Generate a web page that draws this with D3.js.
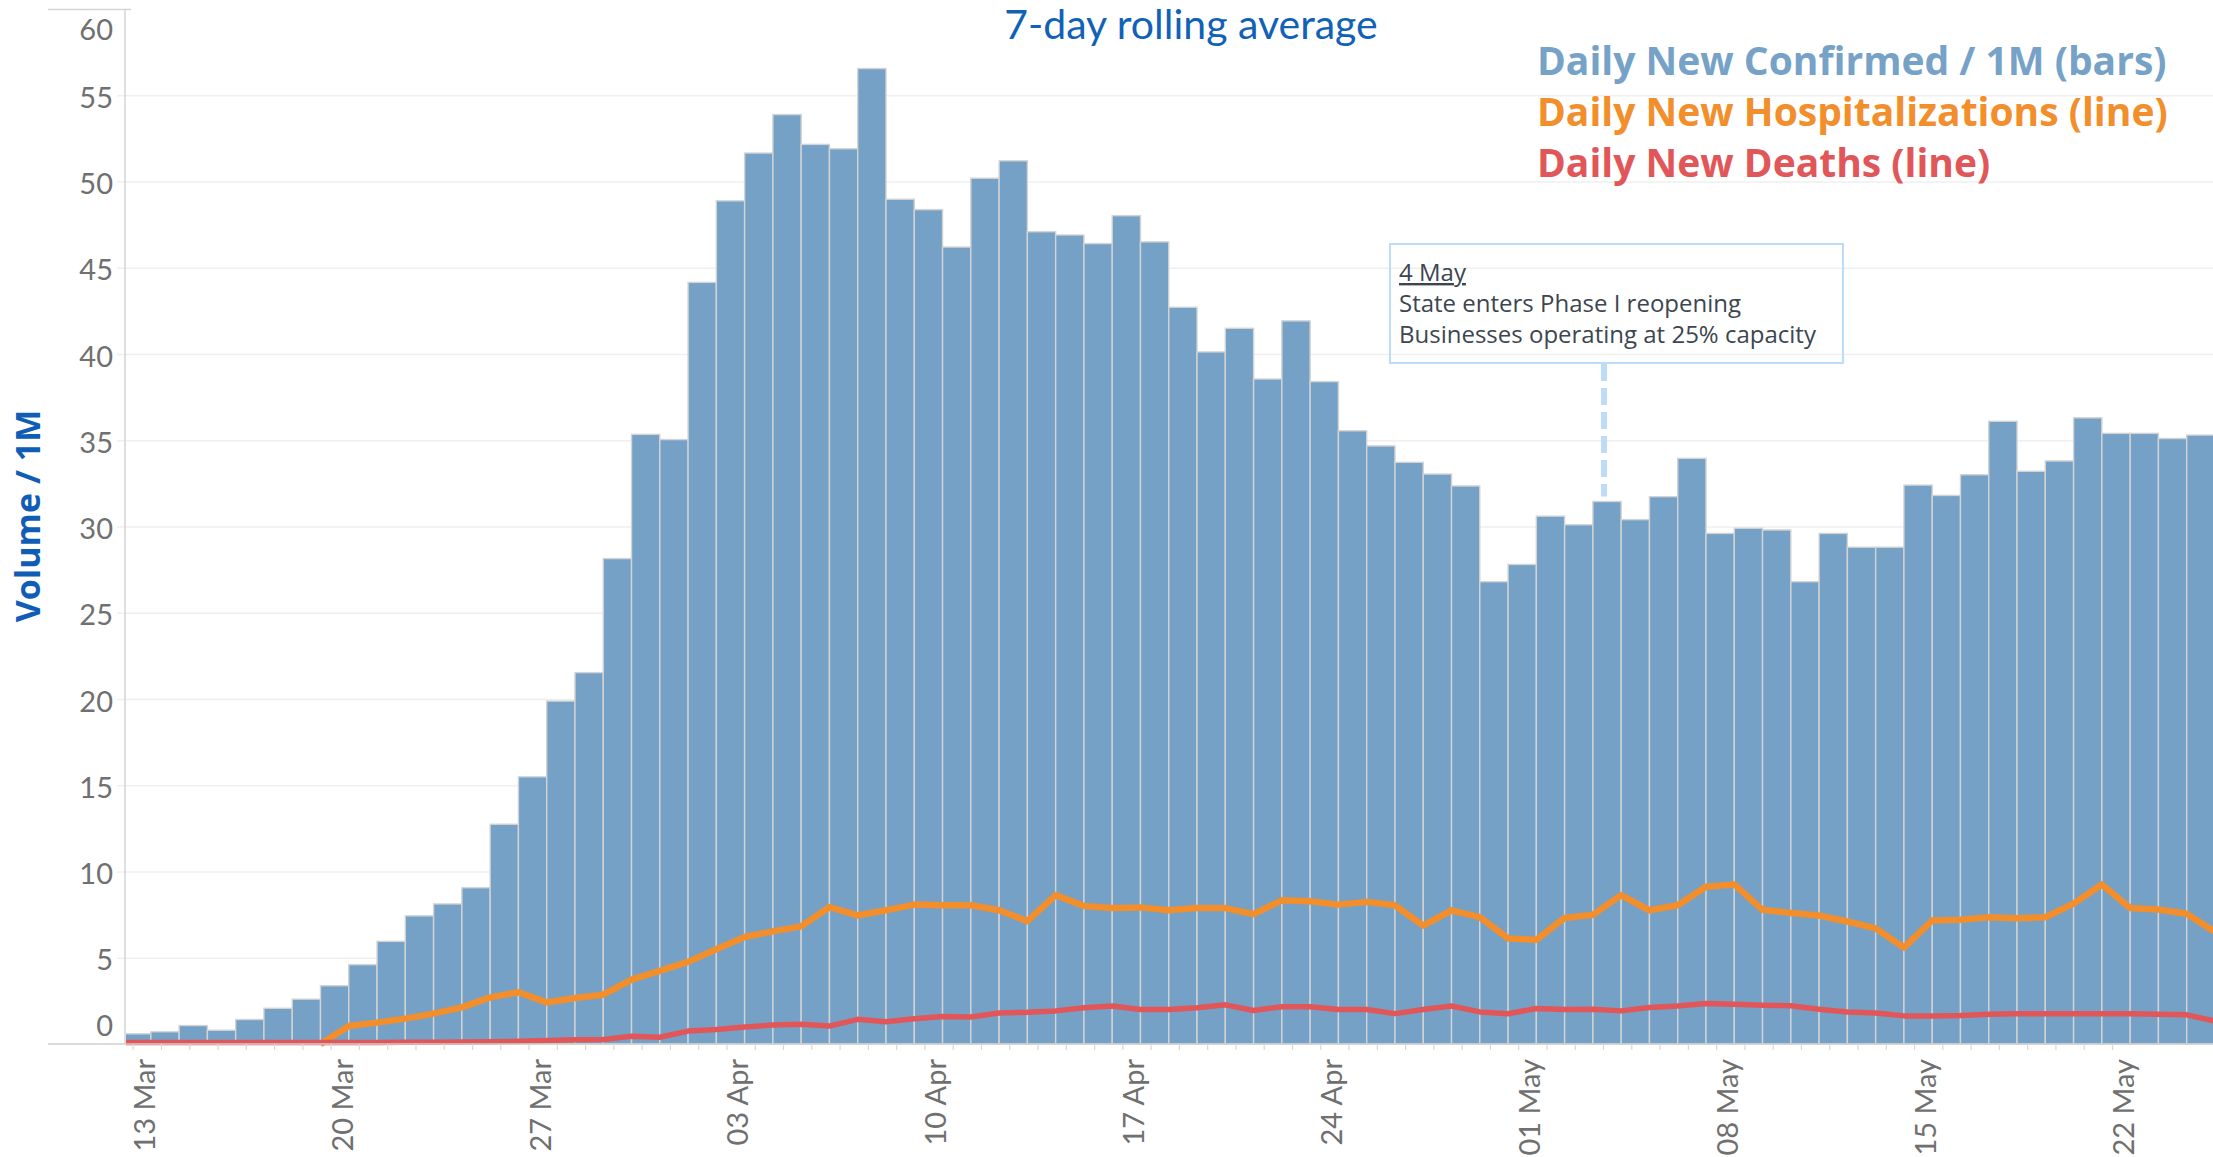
<!DOCTYPE html>
<html>
<head>
<meta charset="utf-8">
<script src="https://cdn.jsdelivr.net/npm/d3@7.9.0/dist/d3.min.js"></script>
<style>
  html, body { margin: 0; padding: 0; background: #fff; }
  svg { display: block; }
  text { font-family: Lato, "Open Sans", sans-serif; }
</style>
</head>
<body>
<div id="chart"></div>
<script>
// daily new confirmed / 1M, 13 Mar .. 25 May 2020
const confirmedStart = "2020-03-13";
const confirmed = [
  0.59, 0.71, 1.07, 0.8, 1.42, 2.07, 2.6, 3.38, 4.6, 5.95, 7.43, 8.12, 9.06, 12.74, 15.49, 19.88, 21.53, 28.14, 35.34,
  35.04, 44.15, 48.88, 51.65, 53.88, 52.15, 51.9, 56.55, 48.97, 48.37, 46.2, 50.19, 51.2, 47.09, 46.9, 46.4, 48.02, 46.5,
  42.71, 40.12, 41.49, 38.55, 41.92, 38.4, 35.55, 34.67, 33.72, 33.04, 32.35, 26.8,
  27.8, 30.6, 30.1, 31.45, 30.4, 31.73, 33.95, 29.6, 29.9, 29.8, 26.8, 29.6, 28.8, 28.8, 32.4, 31.8, 33.0, 36.1,
  33.2, 33.8, 36.3, 35.4, 35.4, 35.1, 35.3
];

// daily new hospitalizations, 20 Mar .. 26 May
const hospStart = "2020-03-20";
const hospitalizations = [
  0, 1.04, 1.24, 1.47, 1.76, 2.12, 2.7, 3.0, 2.41, 2.67, 2.86, 3.73,
  4.24, 4.76, 5.49, 6.2, 6.53, 6.82, 7.94, 7.45, 7.75, 8.08, 8.04, 8.04, 7.75, 7.12, 8.63, 8.0, 7.88, 7.92, 7.75,
  7.88, 7.88, 7.53, 8.33, 8.27, 8.08, 8.24, 8.04, 6.86, 7.75, 7.35,
  6.12, 6.04, 7.31, 7.49, 8.63, 7.75, 8.04, 9.12, 9.25, 7.78, 7.6, 7.45, 7.1, 6.7, 5.59, 7.16, 7.2, 7.35,
  7.29, 7.35, 8.14, 9.25, 7.88, 7.8, 7.55, 6.5
];

// daily new deaths, 13 Mar .. 26 May
const deathsStart = "2020-03-13";
const deaths = [
  0.08, 0.08, 0.08, 0.08, 0.08, 0.08, 0.08, 0.08, 0.09, 0.09, 0.1, 0.1, 0.11, 0.13, 0.16, 0.2, 0.24, 0.26, 0.45,
  0.39, 0.75, 0.84, 0.98, 1.1, 1.14, 1.04, 1.43, 1.29, 1.47, 1.6, 1.57, 1.8, 1.84, 1.92, 2.1, 2.2, 2.0, 2.0,
  2.1, 2.27, 1.94, 2.16, 2.16, 2.0, 2.0, 1.76, 2.0, 2.2, 1.86,
  1.75, 2.06, 2.0, 2.02, 1.92, 2.12, 2.2, 2.35, 2.31, 2.25, 2.22, 2.02, 1.86, 1.8, 1.63, 1.63, 1.65, 1.73,
  1.76, 1.76, 1.76, 1.76, 1.76, 1.73, 1.69, 1.33
];

const tickLabels = ["13 Mar", "20 Mar", "27 Mar", "03 Apr", "10 Apr", "17 Apr", "24 Apr", "01 May", "08 May", "15 May", "22 May"];
const yTicks = [0, 5, 10, 15, 20, 25, 30, 35, 40, 45, 50, 55, 60];

const legendItems = [
  { label: "Daily New Confirmed / 1M (bars)", color: "#76a2c8" },
  { label: "Daily New Hospitalizations (line)", color: "#f28e2b" },
  { label: "Daily New Deaths (line)", color: "#e15759" }
];

const note = {
  date: "2020-05-04",
  lines: ["4 May", "State enters Phase I reopening", "Businesses operating at 25% capacity"]
};

const width = 2213;
const height = 1157;
const left = 125;
const base = 1044;

const parseDay = d3.utcParse("%Y-%m-%d");
const parseTick = d3.utcParse("%d %b %Y");
const tickDates = tickLabels.map(t => parseTick(t + " 2020"));

function series(start, values) {
  const d0 = parseDay(start);
  return values.map((v, i) => ({ date: d3.utcDay.offset(d0, i), value: v }));
}

const barData = series(confirmedStart, confirmed);
const hospData = series(hospStart, hospitalizations);
const deathData = series(deathsStart, deaths);

const x = d3.scaleUtc()
  .domain([tickDates[0], tickDates[tickDates.length - 1]])
  .range([132.7, 2112]);

const y = d3.scaleLinear()
  .domain([0, 60])
  .range([base, 9]);

const step = x(d3.utcDay.offset(tickDates[0], 1)) - x(tickDates[0]);
const barLeft = d => x(d) + 4 - step / 2;

const svg = d3.select("#chart")
  .append("svg")
  .attr("width", width)
  .attr("height", height);

svg.append("defs").append("clipPath")
  .attr("id", "plot")
  .append("rect")
  .attr("x", left + 1)
  .attr("y", 0)
  .attr("width", width - left)
  .attr("height", base + 4);

// gridlines
const grid = svg.append("g")
  .attr("transform", `translate(117,0)`)
  .call(d3.axisLeft(y)
    .tickValues(yTicks.filter(v => v > 0 && v < 60))
    .tickSize(-(width - 117))
    .tickFormat(""));
grid.select(".domain").remove();
grid.selectAll(".tick line").attr("stroke", "#efefef").attr("stroke-width", 1.5);

// y tick labels
const yAxis = svg.append("g")
  .attr("transform", `translate(${left},0)`)
  .call(d3.axisLeft(y).tickValues(yTicks).tickSize(0).tickPadding(12));
yAxis.select(".domain").remove();
yAxis.selectAll(".tick text")
  .attr("fill", "#707070")
  .style("font-size", "29px")
  .style("font-family", "Lato, sans-serif")
  .attr("dy", d => d === 0 ? "-0.3em" : d === 60 ? "1.05em" : "0.42em");

// bars
const plot = svg.append("g").attr("clip-path", "url(#plot)");

plot.append("g")
  .selectAll("rect")
  .data(barData)
  .join("rect")
  .attr("x", d => barLeft(d.date))
  .attr("y", d => y(d.value))
  .attr("width", step)
  .attr("height", d => base - y(d.value))
  .attr("fill", "#75a1c7")
  .attr("stroke", "#d3d3d3")
  .attr("stroke-width", 1.4);

const line = d3.line()
  .x(d => barLeft(d.date))
  .y(d => y(d.value));

plot.append("path")
  .datum(hospData)
  .attr("d", line)
  .attr("fill", "none")
  .attr("stroke", "#f28e2b")
  .attr("stroke-width", 6.5)
  .attr("stroke-linejoin", "round");

plot.append("path")
  .datum(deathData)
  .attr("d", line)
  .attr("fill", "none")
  .attr("stroke", "#e15759")
  .attr("stroke-width", 5.5)
  .attr("stroke-linejoin", "round");

// axis lines
svg.append("line")
  .attr("x1", left).attr("x2", left)
  .attr("y1", 9).attr("y2", base)
  .attr("stroke", "#d4d4d4").attr("stroke-width", 1.5);

svg.append("line")
  .attr("x1", 48).attr("x2", 131)
  .attr("y1", 9.5).attr("y2", 9.5)
  .attr("stroke", "#d4d4d4").attr("stroke-width", 1.5);

svg.append("line")
  .attr("x1", 48).attr("x2", width)
  .attr("y1", base).attr("y2", base)
  .attr("stroke", "#cfcfcf").attr("stroke-width", 1.5);

// x axis: a tick per day, labels every week
const xAxis = svg.append("g")
  .attr("transform", `translate(0,${base})`)
  .call(d3.axisBottom(x)
    .ticks(d3.utcDay.every(1))
    .tickSize(6)
    .tickFormat(""));
xAxis.select(".domain").remove();
xAxis.selectAll(".tick line").attr("stroke", "#d8d8d8").attr("stroke-width", 1.2);

svg.append("g")
  .selectAll("text")
  .data(tickDates)
  .join("text")
  .attr("transform", d => `translate(${x(d) + 22},${base + 15}) rotate(-90)`)
  .attr("text-anchor", "end")
  .attr("fill", "#707070")
  .style("font-size", "29px")
  .text((d, i) => tickLabels[i]);

// title
svg.append("text")
  .attr("x", 1191)
  .attr("y", 39)
  .attr("text-anchor", "middle")
  .attr("fill", "#1161b8")
  .style("font-size", "41px")
  .text("7-day rolling average");

// y axis title
svg.append("text")
  .attr("transform", "translate(40,516) rotate(-90)")
  .attr("text-anchor", "middle")
  .attr("fill", "#0f5db5")
  .style("font-family", "'Open Sans', sans-serif")
  .style("font-size", "34px")
  .style("font-weight", "bold")
  .text("Volume / 1M");

// legend
svg.append("g")
  .selectAll("text")
  .data(legendItems)
  .join("text")
  .attr("x", 1537)
  .attr("y", (d, i) => 75 + i * 51)
  .attr("fill", d => d.color)
  .style("font-family", "'Open Sans', sans-serif")
  .style("font-size", "39px")
  .style("font-weight", "bold")
  .text(d => d.label);

// annotation
const noteX = x(parseDay(note.date)) + 1;
const noteBar = barData.find(d => +d.date === +parseDay(note.date));

svg.append("line")
  .attr("x1", noteX).attr("x2", noteX)
  .attr("y1", 364)
  .attr("y2", y(noteBar.value) - 5)
  .attr("stroke", "#bcdcf8")
  .attr("stroke-width", 6)
  .attr("stroke-dasharray", "17,7");

svg.append("rect")
  .attr("x", 1390)
  .attr("y", 244)
  .attr("width", 453)
  .attr("height", 119)
  .attr("fill", "none")
  .attr("stroke", "#bcdcfa")
  .attr("stroke-width", 2);

svg.append("g")
  .selectAll("text")
  .data(note.lines)
  .join("text")
  .attr("x", 1399)
  .attr("y", (d, i) => 281 + i * 31)
  .attr("fill", "#3c4650")
  .style("font-family", "'Open Sans', sans-serif")
  .style("font-size", "24px")
  .style("text-decoration", (d, i) => i === 0 ? "underline" : null)
  .text(d => d);
</script>
</body>
</html>
